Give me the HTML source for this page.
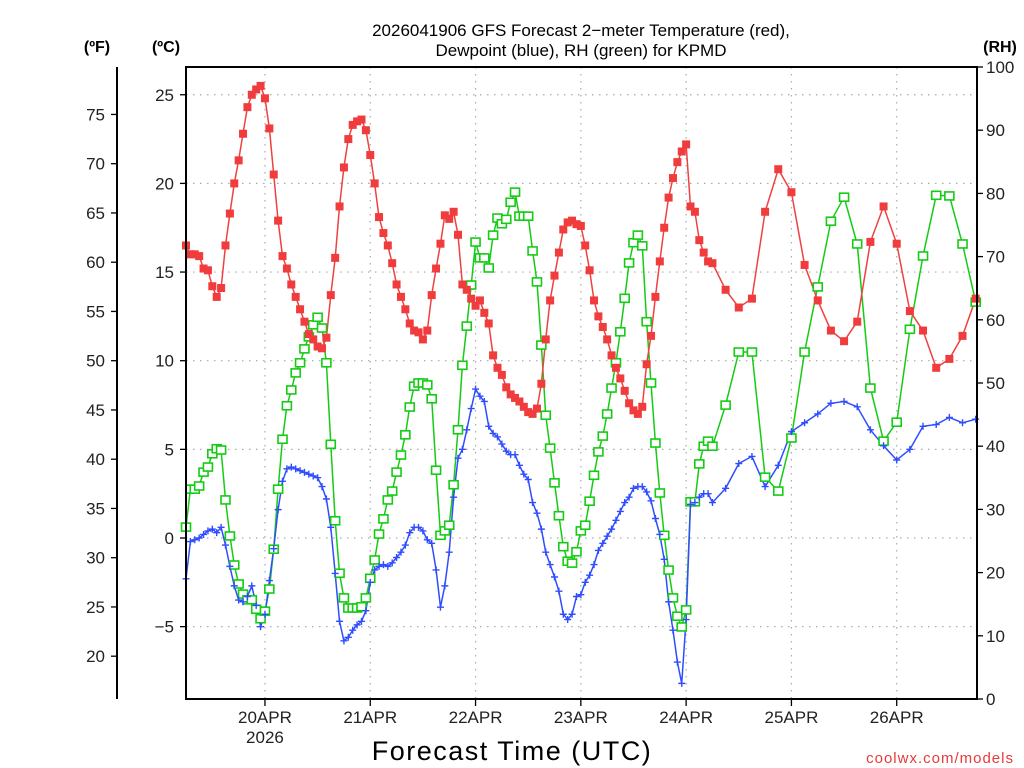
<!DOCTYPE html>
<html><head><meta charset="utf-8"><style>
html,body{margin:0;padding:0;background:#fff;}
svg{display:block;font-family:"Liberation Sans",sans-serif;}
</style></head><body>
<svg id="chart" width="1024" height="768" viewBox="0 0 1024 768" xmlns="http://www.w3.org/2000/svg">
<rect width="1024" height="768" fill="#fff"/>
<text x="581" y="36" font-size="17" text-anchor="middle" fill="#000">2026041906 GFS Forecast 2−meter Temperature (red),</text>
<text x="581" y="56" font-size="17" text-anchor="middle" fill="#000">Dewpoint (blue), RH (green) for KPMD</text>
<text x="97" y="52" font-size="16" font-weight="bold" text-anchor="middle">(ºF)</text>
<text x="166" y="52" font-size="16" font-weight="bold" text-anchor="middle">(ºC)</text>
<text x="1000" y="52" font-size="16" font-weight="bold" text-anchor="middle">(RH)</text>
<text x="512" y="760" font-size="27" text-anchor="middle" letter-spacing="1.5">Forecast Time (UTC)</text>
<text x="1014" y="763" font-size="15" text-anchor="end" fill="#e83a3a" letter-spacing="1">coolwx.com/models</text>
<g id="grid"></g><g id="axes"></g><g id="series"></g>
<rect x="186" y="67" width="791" height="632" fill="none" stroke="#000" stroke-width="2"/>
</svg>
<script>
const hoursHourly = Array.from({length:121},(_, i)=>i);
const hours3 = [123,126,129,132,135,138,141,144,147,150,153,156,159,162,165,168,171,174,177,180];
const hours = hoursHourly.concat(hours3);
const tempC = [16.5,16.0,16.0,15.9,15.2,15.1,14.2,13.6,14.1,16.5,18.3,20.0,21.3,22.8,24.3,25.0,25.3,25.5,24.8,23.1,
20.5,17.9,15.9,15.2,14.3,13.6,12.9,12.2,11.5,11.2,10.8,10.7,11.3,13.7,15.8,18.7,20.9,22.5,23.3,23.5,
23.6,23.0,21.6,20.0,18.1,17.2,16.5,15.5,14.3,13.6,12.9,12.1,11.7,11.6,11.2,11.7,13.7,15.2,16.6,18.2,
18.0,18.4,17.1,14.3,14.0,13.5,13.1,13.4,12.7,12.1,10.3,9.6,9.2,8.5,8.1,7.9,7.7,7.4,7.1,7.0,
7.3,8.7,11.2,13.4,14.8,16.1,17.4,17.8,17.9,17.7,17.6,16.5,15.1,13.4,12.5,11.9,11.2,10.3,9.6,9.0,
8.3,7.6,7.2,7.0,7.4,9.8,11.4,13.6,15.6,17.5,19.2,20.3,21.2,21.8,22.2,18.7,18.4,16.8,16.1,15.6,15.5,
14.0,13.0,13.5,18.4,20.8,19.5,15.4,13.4,11.7,11.1,12.2,16.7,18.7,16.6,12.8,11.7,9.6,10.1,11.4,13.5];
const dewC = [-2.3,-0.2,-0.1,0.0,0.2,0.4,0.5,0.3,0.6,-0.4,-1.6,-2.7,-3.5,-3.6,-3.3,-2.7,-3.8,-5.0,-4.3,-2.4,
-0.6,1.6,3.2,3.9,4.0,3.9,3.8,3.7,3.6,3.5,3.4,2.9,2.2,0.6,-2.0,-4.7,-5.8,-5.6,-5.2,-4.9,
-4.7,-4.1,-2.5,-1.8,-1.6,-1.5,-1.6,-1.4,-1.1,-0.8,-0.4,0.3,0.6,0.6,0.4,-0.1,-0.3,-1.8,-3.9,-2.7,
-0.8,2.3,4.5,5.0,6.1,7.3,8.4,8.0,7.7,6.3,5.9,5.7,5.3,4.9,4.7,4.7,4.1,3.6,3.3,2.0,
1.4,0.5,-0.8,-1.5,-2.2,-3.0,-4.3,-4.6,-4.3,-3.3,-3.2,-2.5,-2.1,-1.5,-0.7,-0.3,0.1,0.5,1.0,1.5,
2.0,2.3,2.8,2.9,2.9,2.6,2.1,1.1,0.2,-1.2,-3.6,-5.2,-7.0,-8.2,-4.6,1.9,2.0,2.3,2.5,2.5,2.0,
2.8,4.2,4.6,2.9,4.1,6.0,6.5,7.0,7.6,7.7,7.4,6.1,5.2,4.4,5.0,6.3,6.4,6.8,6.5,6.7];
const rhPct = [27.2,33.2,33.2,33.7,35.9,36.7,38.8,39.6,39.4,31.5,25.8,21.2,18.2,16.6,15.7,15.7,14.2,12.7,13.9,17.4,
23.7,33.2,41.1,46.4,48.9,51.6,53.2,55.4,57.3,59.2,60.4,58.7,53.2,40.3,28.2,19.9,16.0,14.4,14.4,14.4,
14.6,16.0,19.1,22.0,26.1,28.5,31.5,32.9,35.9,38.6,41.8,46.2,49.5,50.0,50.0,49.7,47.5,36.2,25.9,26.6,
27.5,33.9,42.6,52.8,59.0,65.5,72.3,69.8,69.8,68.2,73.4,76.1,75.2,75.9,78.6,80.2,76.4,76.4,76.4,70.9,
66.0,56.0,44.9,39.7,34.2,29.0,24.1,21.8,21.5,23.3,26.6,27.5,31.3,35.4,39.1,41.6,45.1,49.2,53.2,58.1,
63.4,69.0,72.2,73.4,71.7,59.7,50.0,40.5,32.6,25.9,20.4,16.0,13.1,11.4,14.1,31.2,31.2,37.2,40.0,40.8,40.0,
46.5,54.9,54.9,35.1,32.9,41.3,54.9,65.2,75.6,79.4,72.0,49.2,40.8,43.8,58.5,70.1,79.7,79.6,72.0,62.8];
const dayLabels = ["20APR","21APR","22APR","23APR","24APR","25APR","26APR"];
const celsiusTicks = [25,20,15,10,5,0,-5];
const fahrenheitTicks = [75,70,65,60,55,50,45,40,35,30,25,20];
const rhTicks = [0,10,20,30,40,50,60,70,80,90,100];

const NS="http://www.w3.org/2000/svg";
const X0=186, X1=977, PY0=67, PY1=699, H_END=180.3;
function xScale(h){return X0+(X1-X0)*h/H_END;}
function yC(c){return 538-17.73*c;}
function yF(f){return yC((f-32)*5/9);}
function yRH(r){return PY1-(PY1-PY0)*r/100;}
function mk(tag,attrs,parent){const e=document.createElementNS(NS,tag);for(const k in attrs)e.setAttribute(k,attrs[k]);parent.appendChild(e);return e;}
const grid=document.getElementById('grid'), axes=document.getElementById('axes'), series=document.getElementById('series');

celsiusTicks.forEach(c=>{
  const y=yC(c);
  const g=mk('line',{x1:X0,x2:X1,y1:y,y2:y,stroke:'#aaa','stroke-width':1.2,'stroke-dasharray':'1.5,5.5'},grid);
  
  
  const t=mk('line',{x1:X0-6,x2:X0,y1:y,y2:y,stroke:'#000','stroke-width':1.3},axes);
  
  
  const l=mk('text',{x:X0-12,y:y+6,'font-size':17,'text-anchor':'end',fill:'#222'},axes);
  l.textContent=String(c).replace('-','−');
  
  
});
const fl=mk('line',{x1:117,x2:117,y1:67,y2:699,stroke:'#000','stroke-width':2},axes);


fahrenheitTicks.forEach(f=>{
  const y=yF(f);
  const t=mk('line',{x1:111,x2:117,y1:y,y2:y,stroke:'#000','stroke-width':1.3},axes);
  
  
  const l=mk('text',{x:105,y:y+6,'font-size':17,'text-anchor':'end',fill:'#222'},axes);
  l.textContent=f;
  
  
});
rhTicks.forEach(r=>{
  const y=yRH(r);
  const t=mk('line',{x1:X1,x2:X1+6,y1:y,y2:y,stroke:'#000','stroke-width':1.3},axes);
  
  
  const l=mk('text',{x:986,y:y+6,'font-size':17,'text-anchor':'start',fill:'#222'},axes);
  l.textContent=r;
  
  
});
dayLabels.forEach((d,i)=>{
  const x=xScale(18+24*i);
  const g=mk('line',{x1:x,x2:x,y1:PY0,y2:PY1,stroke:'#aaa','stroke-width':1.2,'stroke-dasharray':'1.5,5.5'},grid);
  
  
  const t=mk('line',{x1:x,x2:x,y1:PY1,y2:PY1+7,stroke:'#000','stroke-width':1.3},axes);
  
  
  const l=mk('text',{x:x,y:723,'font-size':17,'text-anchor':'middle',fill:'#222'},axes);
  l.textContent=d;
  
  
  if(i===0){
    const yr=mk('text',{x:x,y:743,'font-size':17,'text-anchor':'middle',fill:'#222'},axes);
    yr.textContent='2026';
    
    
  }
});

function drawLine(vals,yf,color,name){
  const pts=hours.map((h,i)=>xScale(h).toFixed(1)+','+yf(vals[i]).toFixed(1)).join(' ');
  const p=mk('polyline',{points:pts,fill:'none',stroke:color,'stroke-width':1.5},series);
  
  
}
drawLine(rhPct,yRH,'#14cc14','rh-line');
drawLine(dewC,yC,'#2f4dff','dewpoint-line');
drawLine(tempC,yC,'#f04040','temperature-line');

hours.forEach((h,i)=>{
  const x=xScale(h), y=yRH(rhPct[i]);
  const m=mk('rect',{x:x-4.5,y:y-4,width:9,height:8,fill:'#fff',stroke:'#14cc14','stroke-width':1.6},series);
  
  
});
hours.forEach((h,i)=>{
  const x=xScale(h), y=yC(dewC[i]);
  const m=mk('path',{d:`M${x-3.5},${y}H${x+3.5}M${x},${y-3.5}V${y+3.5}`,stroke:'#2f4dff','stroke-width':1.4,fill:'none'},series);
  
  
});
hours.forEach((h,i)=>{
  const x=xScale(h), y=yC(tempC[i]);
  const m=mk('rect',{x:x-4,y:y-4,width:8,height:8,fill:'#f03c3c'},series);
  
  
});
</script>
</body></html>
